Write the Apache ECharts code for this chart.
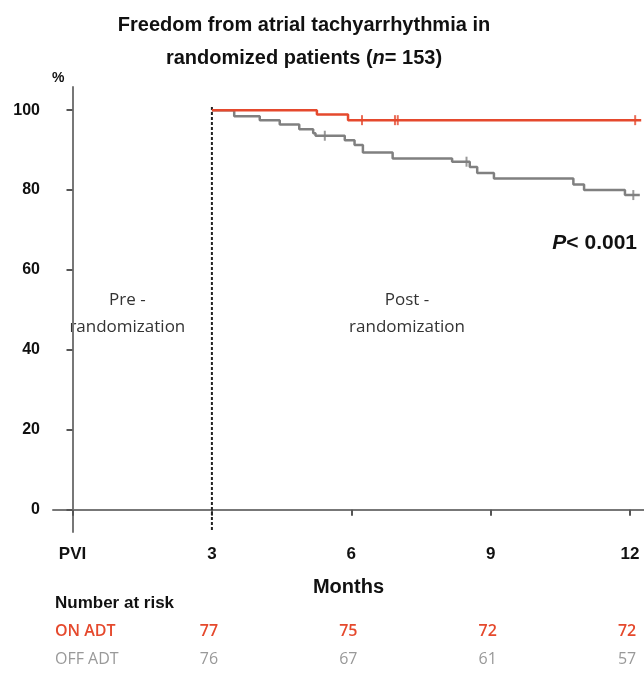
<!DOCTYPE html>
<html>
<head>
<meta charset="utf-8">
<script src="https://cdn.jsdelivr.net/npm/echarts@6/dist/echarts.min.js"></script>
<style>
html,body{margin:0;padding:0;background:#fff;}
#chart{width:644px;height:674px;}
</style>
</head>
<body>
<div id="chart"></div>
<script>
// ---- data ----
var xTickValues = [0, 3, 6, 9, 12];
var xTickLabels = ['PVI', '3', '6', '9', '12'];
var yTickValues = [0, 20, 40, 60, 80, 100];

// Kaplan-Meier steps: [month, % free]
var onADT = [[3, 100], [5.26, 98.9], [5.93, 97.5], [12.24, 97.5]];
var onADTCensor = [[6.23, 97.5], [6.94, 97.5], [7.0, 97.5], [12.11, 97.5]];

var offADT = [[3, 100], [3.48, 98.5], [4.03, 97.5], [4.46, 96.4], [4.88, 95.25],
  [5.18, 94.2], [5.23, 93.6], [5.86, 92.5], [6.07, 91.25], [6.25, 89.4],
  [6.89, 87.9], [8.17, 87.1], [8.55, 85.8], [8.71, 84.3], [9.07, 82.9],
  [10.78, 81.4], [11.01, 80.0], [11.89, 78.75], [12.21, 78.75]];
var offADTCensor = [[5.43, 93.6], [8.48, 87.1], [12.07, 78.75]];

var riskMonths = [3, 6, 9, 12];
var riskOn = [77, 75, 72, 72];
var riskOff = [76, 67, 61, 57];
var groupNames = ['ON ADT', 'OFF ADT'];

var RED = '#e5492d';
var GRAY = '#808080';

var chart = echarts.init(document.getElementById('chart'));
var option = {
  animation: false,
  title: {
    text: '{b|Freedom from atrial tachyarrhythmia in}\n{b|randomized patients (}{i|n}{b|= 153)}',
    left: 299, top: 4, textAlign: 'center',
    textStyle: {
      rich: {
        b: {fontFamily: 'Liberation Sans', fontWeight: 'bold', fontSize: 20, color: '#111', lineHeight: 33},
        i: {fontFamily: 'Liberation Sans', fontWeight: 'bold', fontStyle: 'italic', fontSize: 20, color: '#111', lineHeight: 33}
      }
    }
  },
  grid: {left: 53, right: 0, top: 87, bottom: 142, containLabel: false},
  xAxis: {
    type: 'value', min: -0.42, max: 12.3,
    name: 'Months', nameLocation: 'middle', nameGap: 45,
    nameTextStyle: {fontFamily: 'Liberation Sans', fontWeight: 'bold', fontSize: 20, color: '#111'},
    axisLine: {lineStyle: {color: '#777', width: 2}},
    axisTick: {show: true, customValues: xTickValues, length: 6, lineStyle: {color: '#555', width: 2}},
    axisLabel: {
      customValues: xTickValues, margin: 14,
      fontFamily: 'Liberation Sans', fontWeight: 'bold', fontSize: 17, color: '#111',
      formatter: function (v) { var i = xTickValues.indexOf(v); return i >= 0 ? xTickLabels[i] : ''; }
    },
    splitLine: {show: false}
  },
  yAxis: {
    type: 'value', min: -5.6, max: 105.8,
    name: '%', nameLocation: 'end', nameGap: 2,
    nameTextStyle: {fontFamily: 'Liberation Sans', fontWeight: 'bold', fontSize: 14, color: '#111', align: 'right', padding: [0, 8, 0, 0]},
    axisLine: {show: true, lineStyle: {color: '#777', width: 2}},
    axisTick: {show: true, customValues: yTickValues, length: 6, lineStyle: {color: '#555', width: 2}},
    axisLabel: {customValues: yTickValues, margin: 13, fontFamily: 'Liberation Sans', fontWeight: 'bold', fontSize: 16, color: '#111'},
    splitLine: {show: false}
  },
  series: [
    {
      type: 'line', data: [[3, 100.8], [3, -5.6]], showSymbol: false, silent: true,
      lineStyle: {color: '#222', width: 2, type: [3, 2]}, z: 1
    },
    {
      name: groupNames[1], type: 'line', step: 'end', data: offADT, showSymbol: false,
      lineStyle: {color: GRAY, width: 2.5}, z: 2
    },
    {
      name: groupNames[0], type: 'line', step: 'end', data: onADT, showSymbol: false,
      lineStyle: {color: RED, width: 2.5}, z: 3
    },
    {
      type: 'scatter', data: offADTCensor, symbol: 'rect', symbolSize: [2, 10],
      itemStyle: {color: GRAY}, z: 4
    },
    {
      type: 'scatter', data: onADTCensor, symbol: 'rect', symbolSize: [2, 10],
      itemStyle: {color: RED}, z: 5
    }
  ]
};
chart.setOption(option);

// annotations & number-at-risk table positioned through the axes
function px(x, y) { return chart.convertToPixel({gridIndex: 0}, [x, y]); }
var g = [];
var cal = '"Open Sans"';
var preC = px(1.18, 0)[0];
var postC = px(7.2, 0)[0];
var annFont = '17px ' + cal;
g.push({type: 'text', x: preC, y: 300, style: {text: 'Pre -', font: annFont, fill: '#333', align: 'center', verticalAlign: 'middle'}});
g.push({type: 'text', x: preC, y: 327, style: {text: 'randomization', font: annFont, fill: '#333', align: 'center', verticalAlign: 'middle'}});
g.push({type: 'text', x: postC, y: 300, style: {text: 'Post -', font: annFont, fill: '#333', align: 'center', verticalAlign: 'middle'}});
g.push({type: 'text', x: postC, y: 327, style: {text: 'randomization', font: annFont, fill: '#333', align: 'center', verticalAlign: 'middle'}});
g.push({type: 'text', x: 637, y: 243, style: {
  text: '{p|P}{t|< 0.001}', align: 'right', verticalAlign: 'middle',
  rich: {
    p: {font: 'italic bold 21px "Liberation Sans"', fill: '#111'},
    t: {font: 'bold 21px "Liberation Sans"', fill: '#111'}
  }
}});
g.push({type: 'text', x: 55, y: 603, style: {text: 'Number at risk', font: 'bold 17px "Liberation Sans"', fill: '#111', align: 'left', verticalAlign: 'middle'}});
g.push({type: 'text', x: 55, y: 631, style: {text: groupNames[0], font: '600 16px ' + cal, fill: RED, align: 'left', verticalAlign: 'middle'}});
g.push({type: 'text', x: 55, y: 659, style: {text: groupNames[1], font: '16px ' + cal, fill: '#999', align: 'left', verticalAlign: 'middle'}});
for (var i = 0; i < riskMonths.length; i++) {
  var xx = px(riskMonths[i], 0)[0] - 3;
  g.push({type: 'text', x: xx, y: 631, style: {text: String(riskOn[i]), font: '600 16px ' + cal, fill: RED, align: 'center', verticalAlign: 'middle'}});
  g.push({type: 'text', x: xx, y: 659, style: {text: String(riskOff[i]), font: '16px ' + cal, fill: '#999', align: 'center', verticalAlign: 'middle'}});
}
chart.setOption({graphic: {elements: g}});
</script>
</body>
</html>
